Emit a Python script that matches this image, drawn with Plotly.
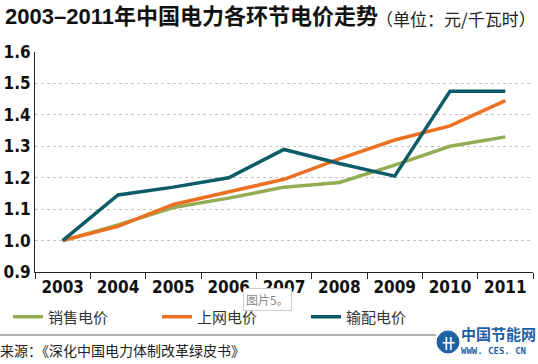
import plotly.graph_objects as go

years = ["2003", "2004", "2005", "2006", "2007", "2008", "2009", "2010", "2011"]
sales_price = [1.00, 1.05, 1.105, 1.135, 1.17, 1.185, 1.24, 1.30, 1.33]
grid_price = [1.00, 1.045, 1.115, 1.155, 1.195, 1.26, 1.32, 1.365, 1.445]
trans_price = [1.00, 1.145, 1.17, 1.20, 1.29, 1.245, 1.205, 1.475, 1.475]
series_names = ["销售电价", "上网电价", "输配电价"]
y_ticks = [0.9, 1.0, 1.1, 1.2, 1.3, 1.4, 1.5, 1.6]
y_tick_text = ["0.9", "1.0", "1.1", "1.2", "1.3", "1.4", "1.5", "1.6"]

colors = ["#94ad55", "#ec7021", "#0d5a68"]
cjk = "Noto Sans CJK SC, Liberation Sans, sans-serif"
num_font = "DejaVu Sans Condensed, Liberation Sans Narrow, sans-serif"

PW = 498.0  # plot width px
PH = 220.0  # plot height px
L = 35.0

def px(x):
    return (x - L) / PW

def py(y):
    return (272.0 - y) / PH

fig = go.Figure()
for name, vals, c in zip(series_names, [sales_price, grid_price, trans_price], colors):
    fig.add_trace(go.Scatter(x=years, y=vals, name=name, mode="lines",
                             line=dict(color=c, width=3.5), cliponaxis=False))

fig.update_layout(
    width=538, height=364,
    margin=dict(l=35, r=5, t=52, b=92, autoexpand=False),
    paper_bgcolor="white", plot_bgcolor="white",
    showlegend=True,
    legend=dict(orientation="h", x=px(8), xanchor="left", y=py(317), yanchor="middle",
                font=dict(family=cjk, size=15, color="#333333"),
                entrywidth=104, entrywidthmode="pixels", itemwidth=30,
                bgcolor="rgba(0,0,0,0)", traceorder="normal"),
    xaxis=dict(type="category", categoryorder="array", categoryarray=years,
               range=[-0.5, 8.5], showgrid=False, showline=True, linecolor="#222222",
               linewidth=1, ticks="outside", tickson="boundaries", ticklen=6,
               tickcolor="#222222", automargin=False,
               tickfont=dict(family=num_font, size=17, color="#111111", weight="bold"),
               zeroline=False),
    yaxis=dict(range=[0.9, 1.6], tickvals=y_ticks, ticktext=y_tick_text,
               showgrid=True, gridcolor="#c4c4c4", griddash="dot", gridwidth=1.2,
               showline=True, linecolor="#222222", linewidth=1, ticks="", automargin=False,
               tickfont=dict(family=num_font, size=17, color="#111111", weight="bold"),
               zeroline=False),
)

fig.add_annotation(xref="paper", yref="paper", x=px(3), y=py(17), xanchor="left", yanchor="middle",
                   text="<b>2003–2011年中国电力各环节电价走势</b>",
                   font=dict(family="Liberation Sans, Noto Sans CJK SC, sans-serif", size=22, color="#111111"),
                   showarrow=False)
fig.add_annotation(xref="paper", yref="paper", x=px(538), y=py(18), xanchor="right", yanchor="middle",
                   text="（单位：元/千瓦时）",
                   font=dict(family=cjk, size=17, color="#222222"), showarrow=False)
fig.add_annotation(xref="paper", yref="paper", x=px(-2), y=py(350), xanchor="left", yanchor="middle",
                   text="来源：《深化中国电力体制改革绿皮书》",
                   font=dict(family=cjk, size=14, color="#222222"), showarrow=False)
fig.add_annotation(xref="paper", yref="paper", x=px(243), y=py(299), xanchor="left", yanchor="middle",
                   text="图片5。", font=dict(family=cjk, size=12, color="#888888"),
                   bordercolor="#cccccc", borderwidth=1, bgcolor="white", borderpad=2, showarrow=False)
# logo text
fig.add_annotation(xref="paper", yref="paper", x=px(459), y=py(333), xanchor="left", yanchor="middle",
                   text="<b>中国节能网</b>", font=dict(family=cjk, size=15, color="#1f5fa6"), showarrow=False)
fig.add_annotation(xref="paper", yref="paper", x=px(459), y=py(351), xanchor="left", yanchor="middle",
                   text="<b>WWW. CES. CN</b>", font=dict(family="DejaVu Sans Mono, monospace", size=9, color="#1f5fa6"),
                   showarrow=False)
# separator line and logo circle
fig.add_shape(type="line", xref="paper", yref="paper", x0=px(0), x1=px(436),
              y0=py(335), y1=py(335), line=dict(color="#999999", width=1.5))
fig.add_shape(type="circle", xref="paper", yref="paper", x0=px(437), x1=px(459),
              y0=py(353), y1=py(331), fillcolor="#1f5fa6", line=dict(color="#1f5fa6", width=1))
fig.add_annotation(xref="paper", yref="paper", x=px(448), y=py(342), xanchor="center", yanchor="middle",
                   text="<b>卄</b>", font=dict(family=cjk, size=13, color="white"), showarrow=False)

fig.write_html("out.html", config={"displayModeBar": False},
               post_script="document.body.style.margin='0';document.body.style.overflow='hidden';")
